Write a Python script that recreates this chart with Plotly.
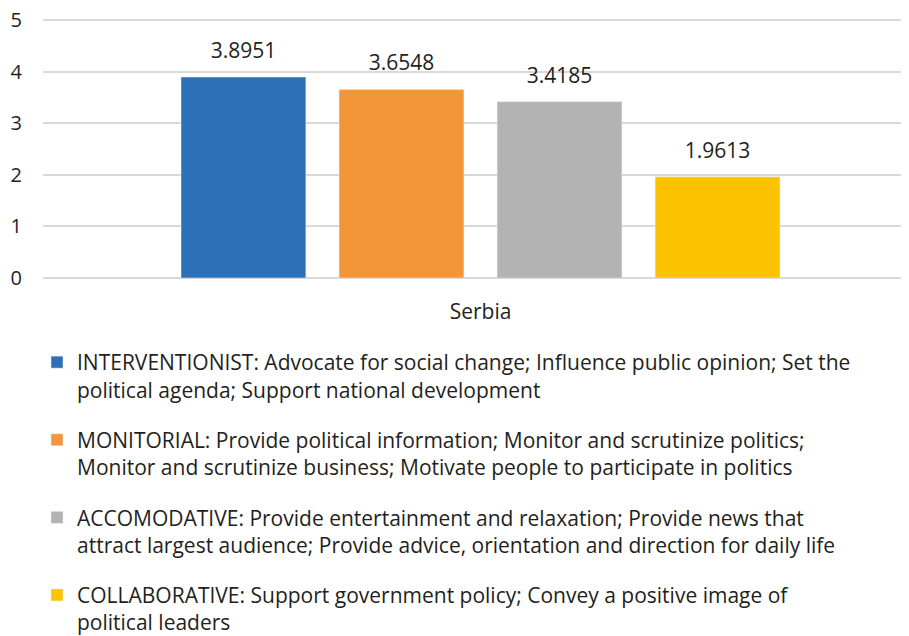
import plotly.graph_objects as go

categories = ["Serbia"]
series_names = [
    "INTERVENTIONIST: Advocate for social change; Influence public opinion; Set the<br>political agenda; Support national development",
    "MONITORIAL: Provide political information; Monitor and scrutinize politics;<br>Monitor and scrutinize business; Motivate people to participate in politics",
    "ACCOMODATIVE: Provide entertainment and relaxation; Provide news that<br>attract largest audience; Provide advice, orientation and direction for daily life",
    "COLLABORATIVE: Support government policy; Convey a positive image of<br>political leaders",
]
series_values = [[3.8951], [3.6548], [3.4185], [1.9613]]
colors = ["#2E70B7", "#F3963A", "#B3B3B3", "#FDC300"]
y_ticks = [0, 1, 2, 3, 4, 5]

FONT = "Open Sans"
TXT = "#231F20"
W, H = 901, 628  # page body has an 8px margin

fig = go.Figure()
for i, (name, vals, col) in enumerate(zip(series_names, series_values, colors)):
    fig.add_trace(go.Bar(
        x=categories, y=vals, name=name, marker_color=col,
        legendgroup=f"g{i}",
        text=[f"{v:.4f}" for v in vals],
        texttemplate="<span style='font-size:21px'>%{text}</span><br> ",
        textposition="outside",
        textfont=dict(size=10, color=TXT, family=FONT),
        cliponaxis=False,
    ))

fig.update_layout(
    width=W, height=H,
    margin=dict(l=35, r=0, t=10, b=358, autoexpand=False),
    plot_bgcolor="white", paper_bgcolor="white",
    barmode="group", bargap=0.27, bargroupgap=0.21,
    font=dict(family=FONT, size=21, color=TXT),
    showlegend=True,
    legend=dict(
        xref="container", yref="container",
        x=29 / W, y=1 - 334 / H, xanchor="left", yanchor="top",
        valign="top", tracegroupgap=20,
        font=dict(family=FONT, size=21, color=TXT),
        bgcolor="rgba(0,0,0,0)",
    ),
    xaxis=dict(showgrid=False, ticks="", showline=False, ticklabelstandoff=19,
               range=[-0.5052, 0.4948],
               tickfont=dict(size=21, color=TXT)),
    yaxis=dict(range=[0, 5.04], tickvals=y_ticks, showgrid=True, gridcolor="#D9D9D9",
               gridwidth=1.5, zeroline=True, zerolinecolor="#D9D9D9", zerolinewidth=1.5,
               showline=False, ticks="", ticklabelstandoff=20, ticklabeloverflow="allow",
               tickfont=dict(size=20, color=TXT)),
)

fig.write_html("out.html")
